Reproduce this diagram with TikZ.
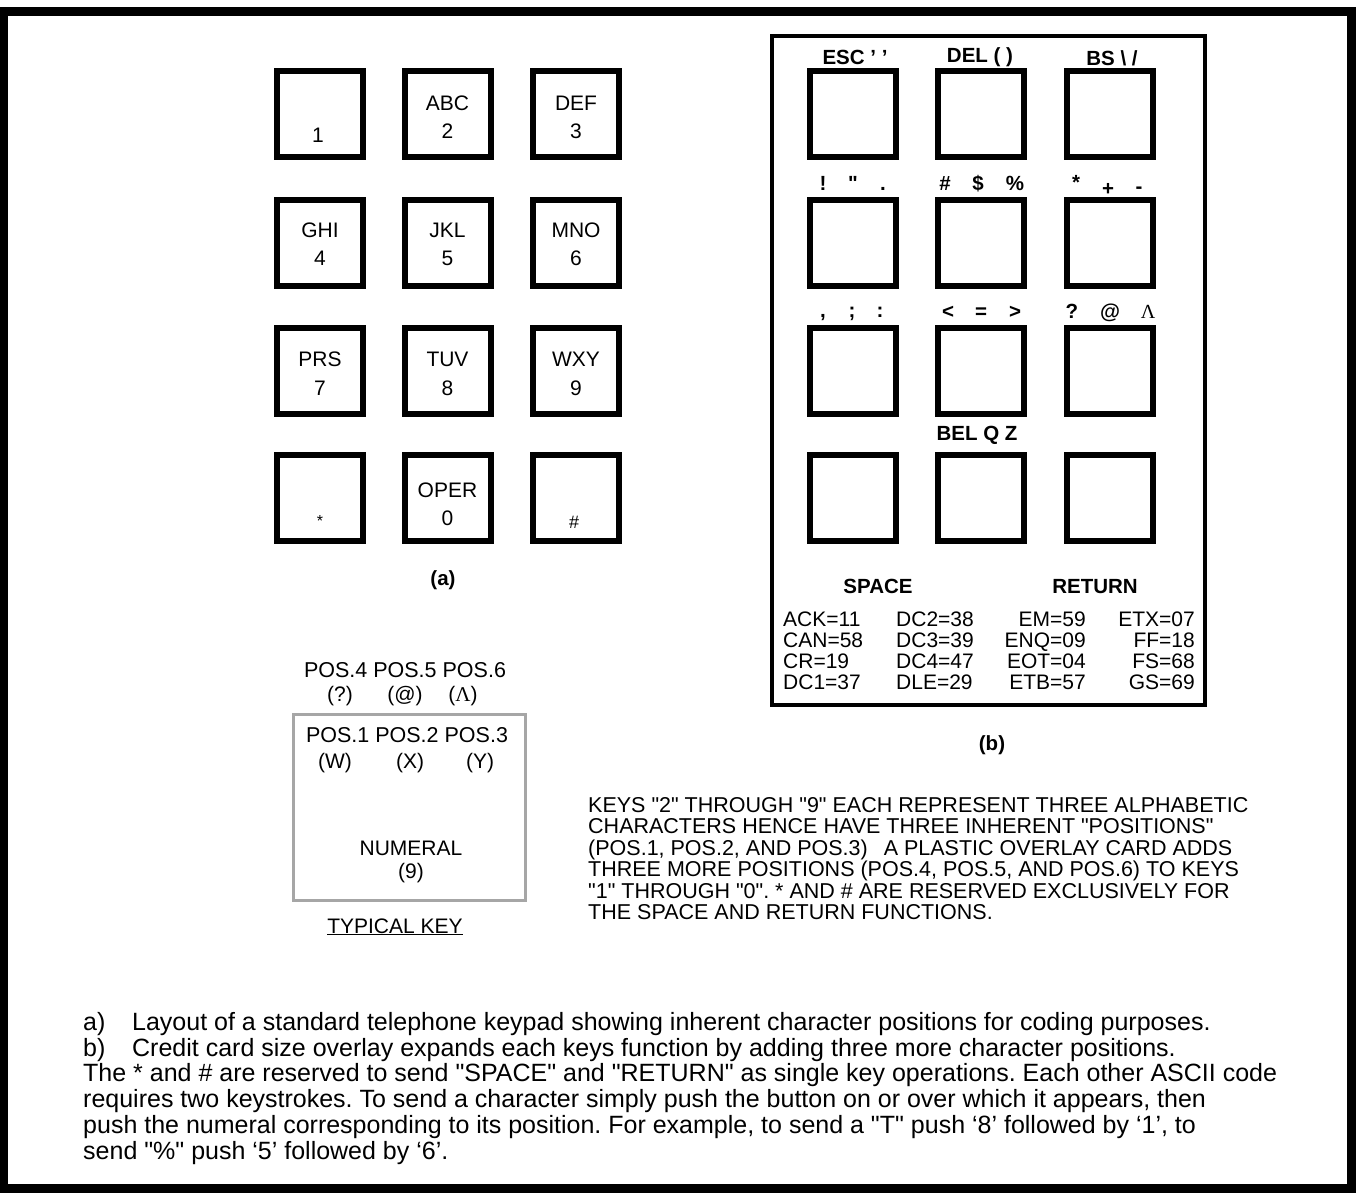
\documentclass[tikz,border=0pt]{standalone}
\usepackage{fontspec}
\setmainfont{Liberation Sans}[Ligatures=TeXOff]
\newfontfamily\serifgreek{Liberation Serif}
\frenchspacing
\begin{document}
\begin{tikzpicture}[x=1pt,y=-1pt,
  key/.style={draw, line width=6pt, minimum width=86pt, minimum height=86pt, inner sep=0pt},
  txt/.style={font=\fontsize{21}{21}\selectfont, inner sep=0pt, anchor=base},
  btxt/.style={font=\fontsize{20.5}{20.5}\selectfont\bfseries, inner sep=0pt, anchor=base},
  codecol/.style={font=\fontsize{21}{21}\selectfont, inner sep=0pt},
]
\useasboundingbox (0,0) rectangle (1358,1192);
\draw[line width=9pt] (3,11.5) rectangle (1351,1188.5);

% ---------- (a) standard keypad ----------
\node[key] (a1) at (320,114) {};
\node[key] (a2) at (447.5,114) {};
\node[key] (a3) at (576,114) {};
\node[key] (a4) at (320,243) {};
\node[key] (a5) at (447.5,243) {};
\node[key] (a6) at (576,243) {};
\node[key] (a7) at (320,370.5) {};
\node[key] (a8) at (447.5,370.5) {};
\node[key] (a9) at (576,370.5) {};
\node[key] (astar) at (320,497.5) {};
\node[key] (a0) at (447.5,497.5) {};
\node[key] (ahash) at (576,497.5) {};

\node[txt] (t1) at (318,142) {1};
\node[txt] (t2l) at (447.5,110) {ABC};
\node[txt] (t2) at (447.5,138) {2};
\node[txt] (t3l) at (576,110) {DEF};
\node[txt] (t3) at (576,138) {3};
\node[txt] (t4l) at (320,237) {GHI};
\node[txt] (t4) at (320,265) {4};
\node[txt] (t5l) at (447.5,237) {JKL};
\node[txt] (t5) at (447.5,265) {5};
\node[txt] (t6l) at (576,237) {MNO};
\node[txt] (t6) at (576,265) {6};
\node[txt] (t7l) at (320,366) {PRS};
\node[txt] (t7) at (320,395) {7};
\node[txt] (t8l) at (447.5,366) {TUV};
\node[txt] (t8) at (447.5,395) {8};
\node[txt] (t9l) at (576,366) {WXY};
\node[txt] (t9) at (576,395) {9};
\node[txt, font=\fontsize{16}{16}\selectfont] (tstar) at (320,526) {*};
\node[txt] (t0l) at (447.5,497) {OPER};
\node[txt] (t0) at (447.5,525) {0};
\node[txt, font=\fontsize{18}{18}\selectfont] (thash) at (574,528) {\#};
\node[btxt] (capa) at (443,585) {(a)};

% ---------- (b) overlay card ----------
\node[draw, line width=4pt, minimum width=433pt, minimum height=669pt, inner sep=0pt] (card) at (988.5,370.5) {};
\node[key] (b1) at (853,114) {};
\node[key] (b2) at (981,114) {};
\node[key] (b3) at (1109.5,114) {};
\node[key] (b4) at (853,243) {};
\node[key] (b5) at (981,243) {};
\node[key] (b6) at (1109.5,243) {};
\node[key] (b7) at (853,370.5) {};
\node[key] (b8) at (981,370.5) {};
\node[key] (b9) at (1109.5,370.5) {};
\node[key] (bstar) at (853,497.5) {};
\node[key] (b0) at (981,497.5) {};
\node[key] (bhash) at (1109.5,497.5) {};

\node[btxt] (l1) at (855,64) {ESC ’ ’};
\node[btxt] (l2) at (980,62) {DEL ( )};
\node[btxt] (l3) at (1112,65) {BS \textbackslash\ /};

\node[btxt] (r4a) at (823,190) {!};
\node[btxt] (r4b) at (853,190) {"};
\node[btxt] (r4c) at (883,190) {.};
\node[btxt] (r5a) at (945,190) {\#};
\node[btxt] (r5b) at (978,190) {\$};
\node[btxt] (r5c) at (1015,190) {\%};
\node[btxt] (r6a) at (1076,189) {*};
\node[btxt] (r6b) at (1108,195) {+};
\node[btxt] (r6c) at (1139,193) {-};

\node[btxt] (r7a) at (823,317) {,};
\node[btxt] (r7b) at (852,317) {;};
\node[btxt] (r7c) at (880,317) {:};
\node[btxt] (r8a) at (948,318) {<};
\node[btxt] (r8b) at (981,318) {=};
\node[btxt] (r8c) at (1015,318) {>};
\node[btxt] (r9a) at (1072,318) {?};
\node[btxt] (r9b) at (1110,318) {@};
\node[btxt, font=\fontsize{20}{20}\selectfont\serifgreek] (r9c) at (1148,318) {Λ};

\node[btxt] (r0) at (977,440) {BEL Q Z};
\node[btxt] (space) at (878,593) {SPACE};
\node[btxt] (ret) at (1095,593) {RETURN};

\node[codecol, anchor=north west, align=left] (c1) at (783,612)
  {ACK=11\\CAN=58\\CR=19\\DC1=37};
\node[codecol, anchor=north west, align=left] (c2) at (896,612)
  {DC2=38\\DC3=39\\DC4=47\\DLE=29};
\node[codecol, anchor=north east, align=right] (c3) at (1086,612)
  {EM=59\\ENQ=09\\EOT=04\\ETB=57};
\node[codecol, anchor=north east, align=right] (c4) at (1195,612)
  {ETX=07\\FF=18\\FS=68\\GS=69};

\node[btxt] (capb) at (992,750) {(b)};

% ---------- typical key ----------
\node[draw, line width=3pt, color=black!35, minimum width=232pt, minimum height=186pt, inner sep=0pt] (typ) at (409.5,807.5) {};
\node[txt, font=\fontsize{21.5}{21.5}\selectfont] (p456) at (405,677) {POS.4 POS.5 POS.6};
\node[txt] (p4) at (340,701) {(?)};
\node[txt] (p5) at (405,701) {(@)};
\node[txt] (p6) at (463,701) {({\serifgreek Λ})};
\node[txt, font=\fontsize{21.5}{21.5}\selectfont] (p123) at (407,742) {POS.1 POS.2 POS.3};
\node[txt] (p1) at (335,768) {(W)};
\node[txt] (p2) at (410,768) {(X)};
\node[txt] (p3) at (480,768) {(Y)};
\node[txt] (num) at (411,855) {NUMERAL};
\node[txt] (num9) at (411,878) {(9)};
\node[txt] (typlbl) at (395,933) {\underline{TYPICAL KEY}};

% ---------- explanatory texts ----------
\node[anchor=north west, align=left, inner sep=0pt, font=\fontsize{21.5}{21.5}\selectfont] (para) at (588,797)
  {KEYS "2" THROUGH "9" EACH REPRESENT THREE ALPHABETIC\\
   CHARACTERS HENCE HAVE THREE INHERENT "POSITIONS"\\
   (POS.1, POS.2, AND POS.3)\hspace{16pt}A PLASTIC OVERLAY CARD ADDS\\
   THREE MORE POSITIONS (POS.4, POS.5, AND POS.6) TO KEYS\\
   "1" THROUGH "0". * AND \# ARE RESERVED EXCLUSIVELY FOR\\
   THE SPACE AND RETURN FUNCTIONS.};

\node[anchor=north west, align=left, inner sep=0pt, font=\fontsize{25}{25.8}\selectfont] (caption) at (83,1012)
  {\makebox[49pt][l]{a)}Layout of a standard telephone keypad showing inherent character positions for coding purposes.\\
   \makebox[49pt][l]{b)}Credit card size overlay expands each keys function by adding three more character positions.\\
   The * and \# are reserved to send "SPACE" and "RETURN" as single key operations. Each other ASCII code\\
   requires two keystrokes. To send a character simply push the button on or over which it appears, then\\
   push the numeral corresponding to its position. For example, to send a "T" push ‘8’ followed by ‘1’, to\\
   send "\%" push ‘5’ followed by ‘6’.};
\end{tikzpicture}
\end{document}
